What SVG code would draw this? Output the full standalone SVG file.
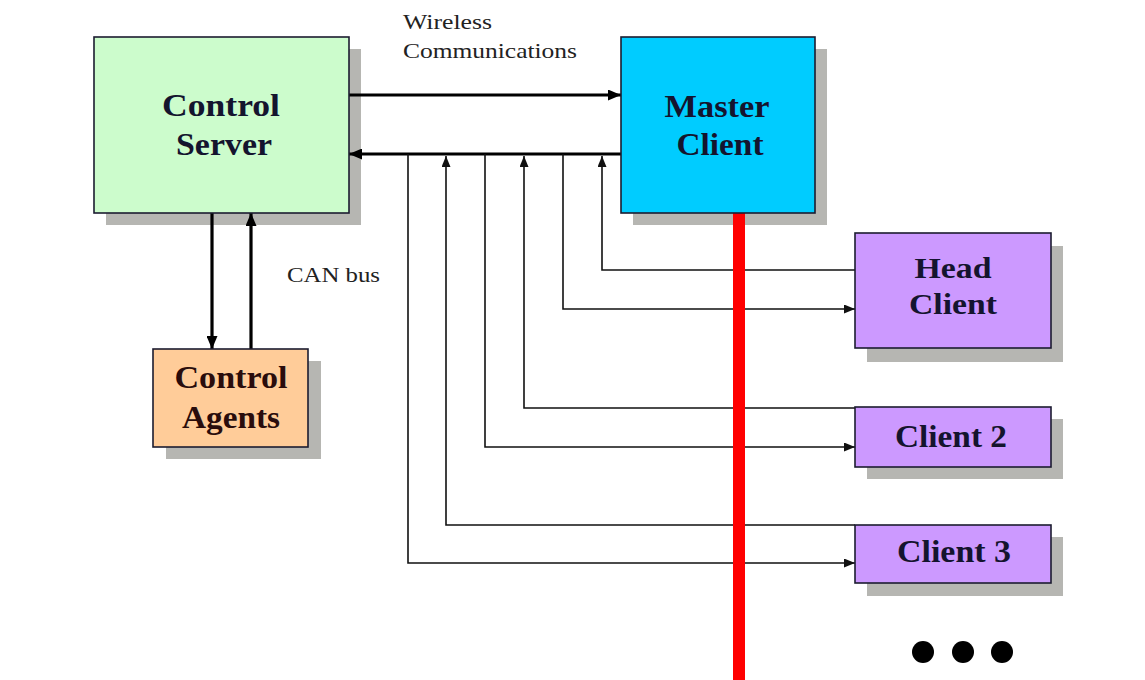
<svg xmlns="http://www.w3.org/2000/svg" width="1145" height="680" viewBox="0 0 1145 680">
  <style>
    .shadow { fill: #b6b6b2; }
    .box { stroke: #1c1c30; stroke-width: 1.6; }
    .label { font-family: "Liberation Serif", "Times New Roman", serif; font-weight: bold; font-size: 32px; fill: #14142e; text-anchor: middle; }
    .tight { font-size: 29px; }
    .agents { fill: #2a0c0c; }
    .note { font-family: "Liberation Serif", "Times New Roman", serif; font-size: 21px; fill: #222; }
    .thick { stroke: #000; stroke-width: 3.2; fill: none; }
    .thin { stroke: #111; stroke-width: 1.6; fill: none; }
  </style>
  <defs>
    <marker id="headBig" markerUnits="userSpaceOnUse" markerWidth="13" markerHeight="11" refX="13" refY="5.5" orient="auto">
      <path d="M0,0 L13,5.5 L0,11 z" fill="#000"/>
    </marker>
    <marker id="headSmall" markerUnits="userSpaceOnUse" markerWidth="11" markerHeight="9" refX="11" refY="4.5" orient="auto">
      <path d="M0,0 L11,4.5 L0,9 z" fill="#111"/>
    </marker>
  </defs>

  <rect width="1145" height="680" fill="#ffffff"/>

  <!-- drop shadows sit beneath the links -->
  <g id="shadows" class="shadow">
    <rect x="106" y="49" width="255" height="176"/>
    <rect x="633" y="49" width="194" height="176"/>
    <rect x="166" y="361" width="155" height="98"/>
    <rect x="867" y="246" width="196" height="116"/>
    <rect x="867" y="419" width="196" height="60"/>
    <rect x="867" y="537" width="196" height="59"/>
  </g>

  <!-- connectors -->
  <g id="connectors">
    <!-- wireless link -->
    <line class="thick" x1="349" y1="95" x2="621" y2="95" marker-end="url(#headBig)"/>
    <line class="thick" x1="621" y1="154" x2="349" y2="154" marker-end="url(#headBig)"/>
    <!-- CAN bus -->
    <line class="thick" x1="212" y1="213" x2="212" y2="349" marker-end="url(#headBig)"/>
    <line class="thick" x1="251" y1="349" x2="251" y2="213" marker-end="url(#headBig)"/>
    <!-- head client -->
    <polyline class="thin" points="855,270 602,270 602,156" marker-end="url(#headSmall)"/>
    <polyline class="thin" points="563,154 563,309 855,309" marker-end="url(#headSmall)"/>
    <!-- client 2 -->
    <polyline class="thin" points="855,408 524,408 524,156" marker-end="url(#headSmall)"/>
    <polyline class="thin" points="485,154 485,447 855,447" marker-end="url(#headSmall)"/>
    <!-- client 3 -->
    <polyline class="thin" points="855,525 446,525 446,156" marker-end="url(#headSmall)"/>
    <polyline class="thin" points="408,154 408,563 855,563" marker-end="url(#headSmall)"/>
    <!-- wired bus from master client -->
    <line x1="739" y1="213" x2="739" y2="680" stroke="#ff0000" stroke-width="12"/>
  </g>

  <!-- text labels on links -->
  <text class="note" x="403" y="29" textLength="89" lengthAdjust="spacingAndGlyphs">Wireless</text>
  <text class="note" x="403" y="58" textLength="174" lengthAdjust="spacingAndGlyphs">Communications</text>
  <text class="note" x="287" y="282" textLength="93" lengthAdjust="spacingAndGlyphs">CAN bus</text>

  <g id="control-server">
    <rect class="box" x="94" y="37" width="255" height="176" fill="#ccfccc"/>
    <text class="label" x="221" y="116" textLength="118" lengthAdjust="spacingAndGlyphs">Control</text>
    <text class="label" x="224" y="155" textLength="96" lengthAdjust="spacingAndGlyphs">Server</text>
  </g>

  <g id="master-client">
    <rect class="box" x="621" y="37" width="194" height="176" fill="#00ccff"/>
    <text class="label" x="717" y="117" textLength="105" lengthAdjust="spacingAndGlyphs">Master</text>
    <text class="label" x="720" y="155" textLength="87" lengthAdjust="spacingAndGlyphs">Client</text>
  </g>

  <g id="control-agents">
    <rect class="box" x="153" y="349" width="155" height="98" fill="#ffcc99"/>
    <text class="label agents" x="231" y="388" textLength="113" lengthAdjust="spacingAndGlyphs">Control</text>
    <text class="label agents" x="231" y="428" textLength="98" lengthAdjust="spacingAndGlyphs">Agents</text>
  </g>

  <g id="head-client">
    <rect class="box" x="855" y="233" width="196" height="115" fill="#cc99ff"/>
    <text class="label tight" x="953" y="278" textLength="77" lengthAdjust="spacingAndGlyphs">Head</text>
    <text class="label tight" x="953" y="314" textLength="88" lengthAdjust="spacingAndGlyphs">Client</text>
  </g>

  <g id="client-2">
    <rect class="box" x="855" y="407" width="196" height="60" fill="#cc99ff"/>
    <text class="label" x="951" y="447" textLength="112" lengthAdjust="spacingAndGlyphs">Client 2</text>
  </g>

  <g id="client-3">
    <rect class="box" x="855" y="525" width="196" height="58" fill="#cc99ff"/>
    <text class="label" x="954" y="562" textLength="114" lengthAdjust="spacingAndGlyphs">Client 3</text>
  </g>

  <g id="more-clients" fill="#000">
    <circle cx="923" cy="652" r="11"/>
    <circle cx="963" cy="652" r="11"/>
    <circle cx="1002" cy="652" r="11"/>
  </g>
</svg>
